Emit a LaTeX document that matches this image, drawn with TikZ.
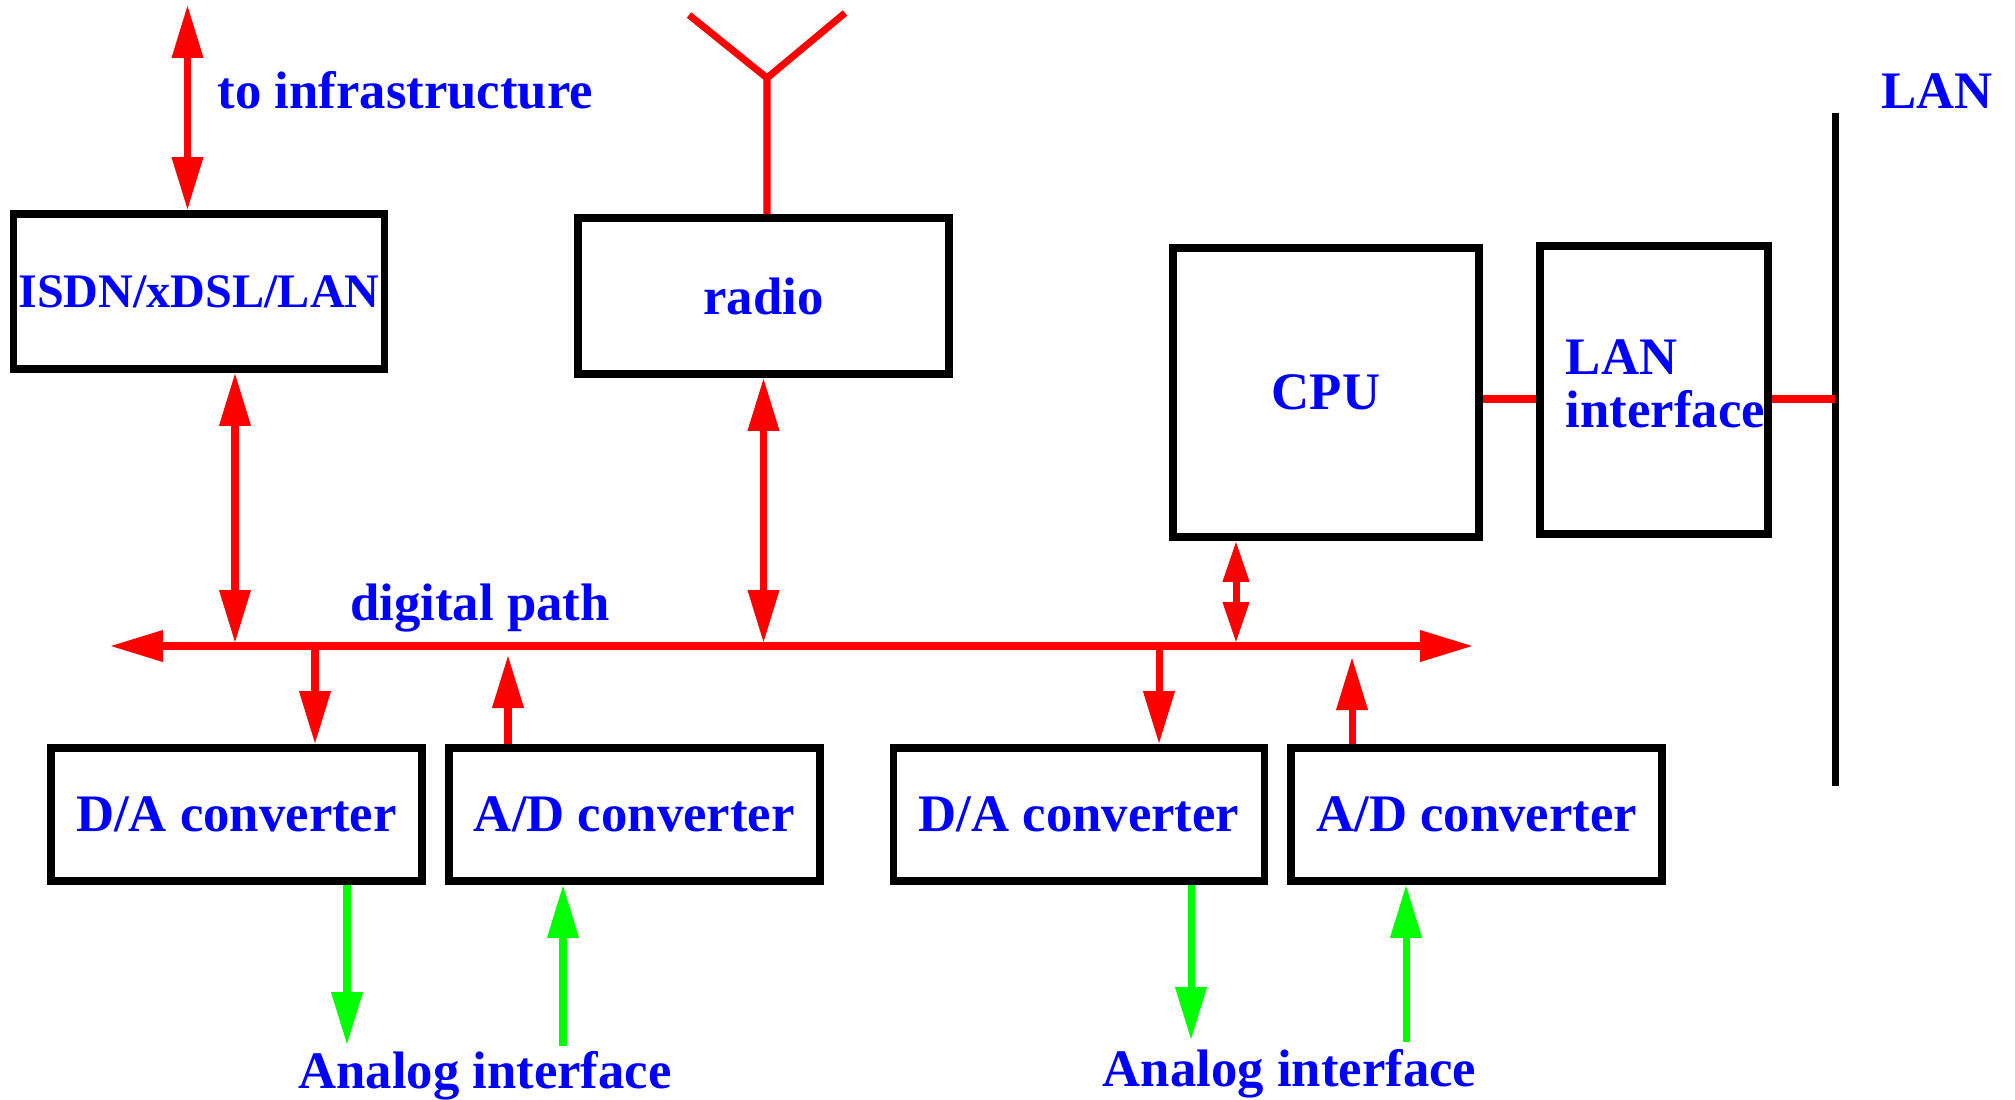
\documentclass[tikz,border=0pt]{standalone}
\usepackage{fontspec}
\setmainfont{Liberation Serif}
\usetikzlibrary{positioning,arrows.meta}

\begin{document}
\begin{tikzpicture}
  \newdimen\gap
  \gap=0.19cm

  \tikzstyle{block} = [
    % The shape:
    rectangle, minimum width=3.71cm, minimum height=1.33cm, inner sep=0pt,
    % The border:
    line width=2.2pt,
    draw=black,
    % Font:
    text=blue,
    font=\bfseries\fontsize{15}{15}\selectfont
  ];
  \tikzstyle{annotation} = [
    % Just text!
    inner sep=0pt, text=blue,
    font=\bfseries\fontsize{15}{15}\selectfont
  ];
  \tikzstyle{flow} = [
    draw = red,
    line width=2pt,
    >={Triangle[length=0.53cm,width=0.30cm]},
    ->
  ];
  \tikzstyle{biflow} = [
    flow,
    <->
  ];
  \tikzstyle{smallTips} = [
    >={Triangle[length=0.41cm,width=0.25cm]}
  ];
  \tikzstyle{analogFlow} = [
    flow,
    draw = green
  ];
  \tikzstyle{wire} = [
    draw = red,
    line width=2pt
  ];
  \tikzstyle{lanBus} = [
    draw = black,
    line width=2pt
  ];

  \useasboundingbox (0,0) rectangle (20.15,-11);

  % top row
  \node [block, minimum height=1.55cm,
         font=\bfseries\fontsize{13.7}{15}\selectfont] (isdn) at (1.99,-2.915) {ISDN/xDSL/LAN};
  \node [block, minimum height=1.56cm] (radio) at (7.635,-2.96) {radio};
  \node [block, minimum width=3.06cm, minimum height=2.89cm] (cpu) at (13.26,-3.925) {CPU};
  \node [block, minimum width=2.28cm, minimum height=2.88cm] (lanIf) at (16.54,-3.90) {};
  \node [annotation, align=left, right = 0.29cm of lanIf.west,
         yshift=0.065cm] (lanIfText) {LAN\\interface};

  % converters
  \node [block] (daOne) at (2.365,-8.145) {D/A converter};
  \node [block, right = \gap of daOne] (adOne) {A/D converter};
  \node [block, right = 0.66cm of adOne] (daTwo) {D/A converter};
  \node [block, right = \gap of daTwo] (adTwo) {A/D converter};

  % texts
  \coordinate (infra) at (1.875,-0.05);
  \node [annotation, anchor=base west] (infraText) at (2.17,-1.09) {to infrastructure};
  \node [annotation, anchor=base] (pathText) at (4.80,-6.20) {digital path};
  \node [annotation, anchor=base] (lanText) at (19.37,-1.09) {LAN};
  \node [annotation, anchor=base] (analogOne) at (4.85,-10.88) {Analog interface};
  \node [annotation, anchor=base] (analogTwo) at (12.895,-10.86) {Analog interface};

  % infrastructure and antenna
  \path [biflow] (infra) to (infra |- isdn.north);
  \coordinate (feed) at (7.67,-0.78);
  \coordinate (armL) at (6.89,-0.15);
  \coordinate (armR) at (8.45,-0.13);
  \path [wire] (radio.north -| feed) to (feed) to (armL);
  \path [wire] (feed) to (armR);

  % digital path
  \coordinate (busL) at (1.10,-6.46);
  \coordinate (busR) at (14.73,-6.46);
  \path [biflow] (busL) to (busR);

  \coordinate (isdnTap) at (2.35,-6.43);
  \coordinate (radioTap) at (radio.south |- isdnTap);
  \coordinate (cpuTap) at (12.36,-6.43);
  \coordinate (daOneTap) at (3.15,-6.50);
  \coordinate (adOneTap) at (5.08,-6.55);
  \coordinate (daTwoTap) at (11.59,-6.50);
  \coordinate (adTwoTap) at (13.52,-6.57);

  \path [biflow] (isdn.south -| isdnTap) to (isdnTap);
  \path [biflow] (radio.south) to (radioTap);
  \path [biflow, smallTips] (cpu.south -| cpuTap) to (cpuTap);
  \path [flow] (daOneTap) to (daOneTap |- daOne.north);
  \path [flow] (adOne.north -| adOneTap) to (adOneTap);
  \path [flow] (daTwoTap) to (daTwoTap |- daTwo.north);
  \path [flow] (adTwo.north -| adTwoTap) to (adTwoTap);

  % analog side
  \coordinate (daOneOut) at (3.47,-10.45);
  \coordinate (adOneIn) at (5.63,-10.46);
  \coordinate (daTwoOut) at (11.91,-10.40);
  \coordinate (adTwoIn) at (14.06,-10.42);
  \path [analogFlow] (daOne.south -| daOneOut) to (daOneOut);
  \path [analogFlow] (adOneIn) to (adOneIn |- adOne.south);
  \path [analogFlow] (daTwo.south -| daTwoOut) to (daTwoOut);
  \path [analogFlow] (adTwoIn) to (adTwoIn |- adTwo.south);

  % LAN
  \coordinate (lanTop) at (18.35,-1.13);
  \coordinate (lanBottom) at (18.35,-7.86);
  \coordinate (lanTap) at (18.35,-3.99);
  \path [lanBus] (lanTop) to (lanBottom);
  \path [wire] (cpu.east |- lanTap) to (lanIf.west |- lanTap);
  \path [wire] (lanIf.east |- lanTap) to (lanTap);
\end{tikzpicture}
\end{document}
